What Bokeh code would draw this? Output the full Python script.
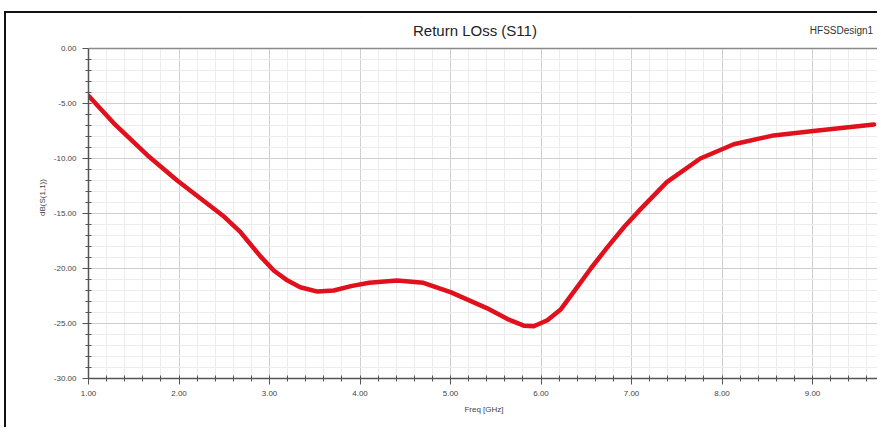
from bokeh.plotting import figure
from bokeh.models import Label, FixedTicker, PrintfTickFormatter, Range1d, BoxAnnotation, Span
from bokeh.embed import file_html
from bokeh.resources import INLINE

# Data
freq_ghz = [1.0, 1.28, 1.65, 1.98, 2.5, 2.68, 2.9, 3.05, 3.2, 3.34, 3.53, 3.71,
            3.9, 4.1, 4.41, 4.7, 5.0, 5.4, 5.63, 5.81, 5.92, 6.07, 6.22, 6.4,
            6.55, 6.73, 6.92, 7.1, 7.39, 7.76, 8.13, 8.57, 9.01, 9.68]
s11_db = [-4.3, -6.8, -9.7, -12.0, -15.3, -16.7, -18.9, -20.2, -21.1, -21.7, -22.1, -22.0,
          -21.6, -21.3, -21.1, -21.3, -22.15, -23.6, -24.6, -25.2, -25.25, -24.7, -23.7, -21.7,
          -20.0, -18.1, -16.2, -14.6, -12.15, -10.0, -8.7, -7.9, -7.5, -6.9]
x_ticks = [1, 2, 3, 4, 5, 6, 7, 8, 9]
y_ticks = [-30, -25, -20, -15, -10, -5, 0]
title_text = "Return LOss (S11)"
design_text = "HFSSDesign1"
x_label = "Freq [GHz]"
y_label = "dB(S(1,1))"

FONT = "Liberation Sans"
x_minor = [round(1 + 0.2 * i, 2) for i in range(0, 45)]
y_minor = list(range(-30, 1))

p = figure(width=873, height=416, output_backend="svg", toolbar_location=None,
           x_range=Range1d(1.0, 9.74), y_range=Range1d(-30, 2.91),
           min_border_left=82, min_border_right=0, min_border_top=3,
           min_border_bottom=51)
p.title = None
p.background_fill_color = "white"
p.border_fill_color = "white"
p.outline_line_color = None

# grids
p.xgrid.ticker = FixedTicker(ticks=x_ticks, minor_ticks=x_minor)
p.ygrid.ticker = FixedTicker(ticks=y_ticks, minor_ticks=y_minor)
for g in (p.xgrid, p.ygrid):
    g.grid_line_color = "#cfcfcf"
    g.grid_line_width = 1
    g.minor_grid_line_color = "#ececec"
    g.minor_grid_line_width = 1

# axes
p.xaxis.ticker = FixedTicker(ticks=x_ticks, minor_ticks=x_minor)
p.yaxis.ticker = FixedTicker(ticks=y_ticks, minor_ticks=y_minor)
p.yaxis.bounds = (-30, 0)
p.xaxis.formatter = PrintfTickFormatter(format="%.2f")
p.yaxis.formatter = PrintfTickFormatter(format="%.2f")
for ax in (p.xaxis, p.yaxis):
    ax.axis_line_color = "#555555"
    ax.axis_line_width = 1.5
    ax.major_tick_line_color = "#555555"
    ax.minor_tick_line_color = "#555555"
    ax.major_tick_out = 6
    ax.major_tick_in = 0
    ax.minor_tick_out = 3
    ax.minor_tick_in = 3
    ax.major_label_text_font = FONT
    ax.major_label_text_font_size = "8px"
    ax.major_label_text_color = "#444444"
    ax.axis_label_text_font = FONT
    ax.axis_label_text_font_size = "8px"
    ax.axis_label_text_font_style = "normal"
    ax.axis_label_text_color = "#444444"
p.xaxis.axis_label = x_label
p.yaxis.axis_label = y_label
p.xaxis.major_label_standoff = 6
p.xaxis.axis_label_standoff = 6
p.yaxis.major_label_standoff = 6
p.yaxis.axis_label_standoff = 4

p.line(freq_ghz, s11_db, line_color="#e0101c", line_width=4.5, line_join="round",
       line_cap="round")

# white header area above the plot region
p.add_layout(BoxAnnotation(bottom=0, fill_color="white", fill_alpha=1.0,
                           line_color=None))
p.add_layout(Span(location=0, dimension="width", line_color="#8a8a8a", line_width=1.5))

p.add_layout(Label(x=5.27, y=1.64, text=title_text, text_align="center",
                   text_baseline="middle", text_font=FONT, text_font_size="15px",
                   text_color="#222222"))
p.add_layout(Label(x=8.97, y=1.64, text=design_text, text_align="left",
                   text_baseline="middle", text_font=FONT, text_font_size="10px",
                   text_color="#333333"))

p.styles = {"margin-top": "11px", "margin-left": "4px",
            "border-top": "2px solid #111111", "border-left": "2px solid #111111"}

open("out.html", "w").write(file_html(p, INLINE))
